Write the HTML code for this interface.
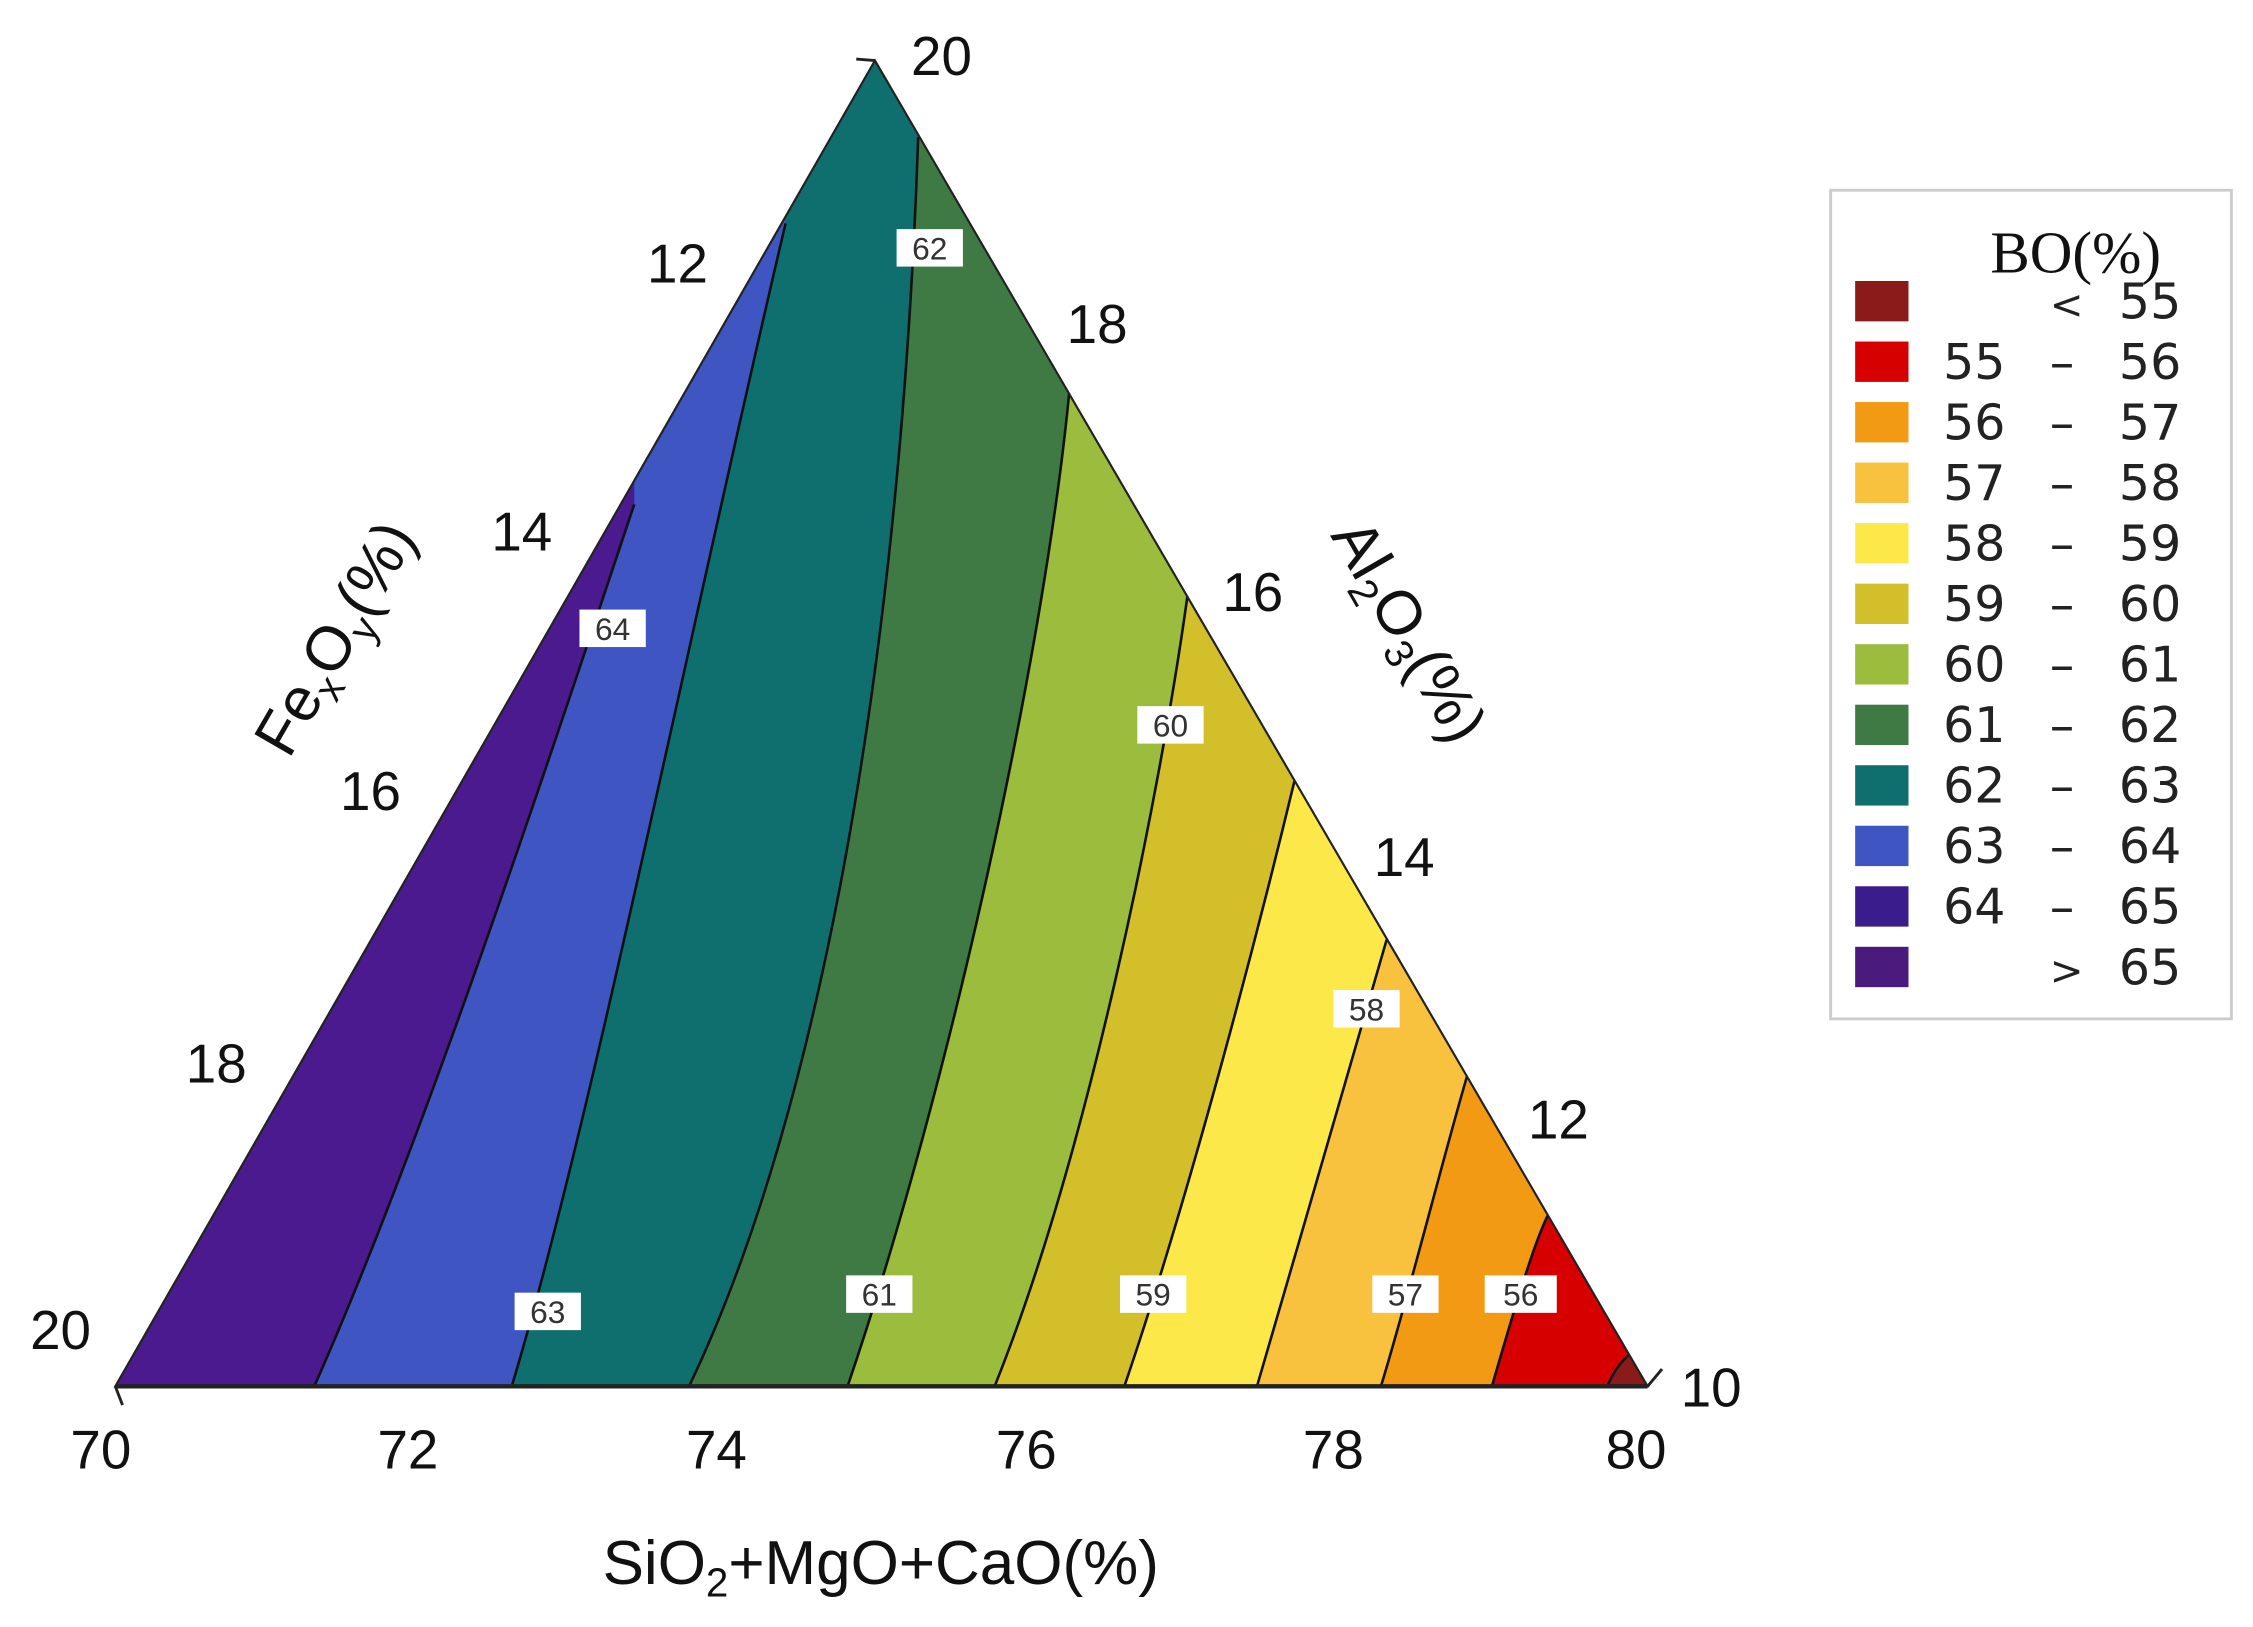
<!DOCTYPE html>
<html><head><meta charset="utf-8"><style>
html,body{margin:0;padding:0;background:#fff;}
svg{display:block;}
</style></head><body>
<svg width="2253" height="1627" viewBox="0 0 1563 1129" preserveAspectRatio="none" xmlns="http://www.w3.org/2000/svg">
<defs><clipPath id="tri"><path d="M607,42 L1143,962 L80,962 Z"/></clipPath></defs>
<g clip-path="url(#tri)">
<rect x="0" y="0" width="1563" height="1129" fill="#4a1a8e"/>
<path d="M218,1100 L218,962 C290,800 370,560 440,350 L440,-100 L1700,-100 L1700,1100 Z" fill="#3e55c2"/>
<path d="M355,1100 L355,962 C410,780 480,430 545,155 L545,-100 L1700,-100 L1700,1100 Z" fill="#0f6f6f"/>
<path d="M478,1100 L478,962 C570,770 625,450 637,95 L637,-100 L1700,-100 L1700,1100 Z" fill="#3f7a45"/>
<path d="M588,1100 L588,962 C660,750 725,450 742,270 L742,-100 L1700,-100 L1700,1100 Z" fill="#9cbc3e"/>
<path d="M690,1100 L690,962 C755,800 805,550 824,412 L824,-100 L1700,-100 L1700,1100 Z" fill="#d3bf2a"/>
<path d="M780,1100 L780,962 C825,830 872,650 898,542 L898,-100 L1700,-100 L1700,1100 Z" fill="#fde84a"/>
<path d="M872,1100 L872,962 C902,860 942,720 962,652 L962,-100 L1700,-100 L1700,1100 Z" fill="#f8c23e"/>
<path d="M958,1100 L958,962 C977,900 1002,800 1018,746 L1018,-100 L1700,-100 L1700,1100 Z" fill="#f39a14"/>
<path d="M1035,1100 L1035,962 C1050,910 1065,860 1074,843 L1074,-100 L1700,-100 L1700,1100 Z" fill="#d60000"/>
<path d="M1115,1100 L1115,962 C1120,950 1125,945 1130,940 L1130,-100 L1700,-100 L1700,1100 Z" fill="#8b1a1a"/>
<g fill="none" stroke="#111" stroke-width="1.8">
<path d="M218,962 C290,800 370,560 440,350"/>
<path d="M355,962 C410,780 480,430 545,155"/>
<path d="M478,962 C570,770 625,450 637,95"/>
<path d="M588,962 C660,750 725,450 742,270"/>
<path d="M690,962 C755,800 805,550 824,412"/>
<path d="M780,962 C825,830 872,650 898,542"/>
<path d="M872,962 C902,860 942,720 962,652"/>
<path d="M958,962 C977,900 1002,800 1018,746"/>
<path d="M1035,962 C1050,910 1065,860 1074,843"/>
<path d="M1115,962 C1120,950 1125,945 1130,940"/>
</g>
</g>
<path d="M607,42 L1143,962 L80,962 Z" fill="none" stroke="#222" stroke-width="1.5"/>
<line x1="80" y1="962" x2="1143" y2="962" stroke="#222" stroke-width="3"/>
<g stroke="#222" stroke-width="2"><line x1="594" y1="41" x2="607" y2="42"/><line x1="80" y1="962" x2="85" y2="975"/><line x1="1143" y1="962" x2="1153" y2="950"/></g>
<g font-family="Liberation Sans, sans-serif" font-size="22" text-anchor="middle" fill="#333">
<g fill="#fff"><rect x="622" y="159" width="46" height="26"/><rect x="402" y="423" width="46" height="26"/><rect x="789" y="490" width="46" height="26"/><rect x="925" y="687" width="46" height="26"/><rect x="357" y="897" width="46" height="26"/><rect x="587" y="885" width="46" height="26"/><rect x="777" y="885" width="46" height="26"/><rect x="952" y="885" width="46" height="26"/><rect x="1030" y="885" width="50" height="26"/></g>
<text x="645" y="180">62</text><text x="425" y="444">64</text><text x="812" y="511">60</text><text x="948" y="708">58</text><text x="380" y="918">63</text><text x="610" y="906">61</text><text x="800" y="906">59</text><text x="975" y="906">57</text><text x="1055" y="906">56</text>
</g>
<g font-family="Liberation Sans, sans-serif" font-size="38" fill="#111">
<text x="470" y="196" text-anchor="middle">12</text>
<text x="362" y="382" text-anchor="middle">14</text>
<text x="257" y="562" text-anchor="middle">16</text>
<text x="150" y="751" text-anchor="middle">18</text>
<text x="42" y="936" text-anchor="middle">20</text>
<text x="632" y="52">20</text>
<text x="740" y="238">18</text>
<text x="848" y="424">16</text>
<text x="953" y="608">14</text>
<text x="1060" y="790">12</text>
<text x="1166" y="976">10</text>
<text x="70" y="1019" text-anchor="middle">70</text>
<text x="283" y="1019" text-anchor="middle">72</text>
<text x="497" y="1019" text-anchor="middle">74</text>
<text x="712" y="1019" text-anchor="middle">76</text>
<text x="925" y="1019" text-anchor="middle">78</text>
<text x="1135" y="1019" text-anchor="middle">80</text>
<text x="611" y="1099" text-anchor="middle" font-size="43">SiO<tspan font-size="28" dy="9">2</tspan><tspan dy="-9">+MgO+CaO(%)</tspan></text>
<text transform="translate(245,450) rotate(-60)" text-anchor="middle" font-size="43">Fe<tspan font-size="28" dy="9">x</tspan><tspan dy="-9">O</tspan><tspan font-size="28" dy="9">y</tspan><tspan dy="-9">(%)</tspan></text>
<text transform="translate(965,445) rotate(60)" text-anchor="middle" font-size="43">Al<tspan font-size="28" dy="9">2</tspan><tspan dy="-9">O</tspan><tspan font-size="28" dy="9">3</tspan><tspan dy="-9">(%)</tspan></text>
</g>
<rect x="1270" y="132" width="278" height="575" fill="#fff" stroke="#ccc" stroke-width="2"/>
<text x="1440" y="189" text-anchor="middle" font-family="Liberation Serif, serif" font-size="41" fill="#111">BO(%)</text>
<g font-family="DejaVu Sans, sans-serif" font-size="34" fill="#222">
<g>
<rect x="1287" y="195" width="37" height="28" fill="#8b1a1a"/>
<rect x="1287" y="237" width="37" height="28" fill="#d60000"/>
<rect x="1287" y="279" width="37" height="28" fill="#f39a14"/>
<rect x="1287" y="321" width="37" height="28" fill="#f8c23e"/>
<rect x="1287" y="363" width="37" height="28" fill="#fde84a"/>
<rect x="1287" y="405" width="37" height="28" fill="#d3bf2a"/>
<rect x="1287" y="447" width="37" height="28" fill="#9cbc3e"/>
<rect x="1287" y="489" width="37" height="28" fill="#3f7a45"/>
<rect x="1287" y="531" width="37" height="28" fill="#0f6f6f"/>
<rect x="1287" y="573" width="37" height="28" fill="#3e55c2"/>
<rect x="1287" y="615" width="37" height="28" fill="#3a1c8c"/>
<rect x="1287" y="657" width="37" height="28" fill="#4a1a7c"/>
</g>
<text x="1422" y="221" font-size="28">&lt;</text><text x="1470" y="221">55</text>
<text x="1348" y="263">55</text><text x="1422" y="263">–</text><text x="1470" y="263">56</text>
<text x="1348" y="305">56</text><text x="1422" y="305">–</text><text x="1470" y="305">57</text>
<text x="1348" y="347">57</text><text x="1422" y="347">–</text><text x="1470" y="347">58</text>
<text x="1348" y="389">58</text><text x="1422" y="389">–</text><text x="1470" y="389">59</text>
<text x="1348" y="431">59</text><text x="1422" y="431">–</text><text x="1470" y="431">60</text>
<text x="1348" y="473">60</text><text x="1422" y="473">–</text><text x="1470" y="473">61</text>
<text x="1348" y="515">61</text><text x="1422" y="515">–</text><text x="1470" y="515">62</text>
<text x="1348" y="557">62</text><text x="1422" y="557">–</text><text x="1470" y="557">63</text>
<text x="1348" y="599">63</text><text x="1422" y="599">–</text><text x="1470" y="599">64</text>
<text x="1348" y="641">64</text><text x="1422" y="641">–</text><text x="1470" y="641">65</text>
<text x="1422" y="683" font-size="28">&gt;</text><text x="1470" y="683">65</text>
</g>
</svg>
</body></html>
